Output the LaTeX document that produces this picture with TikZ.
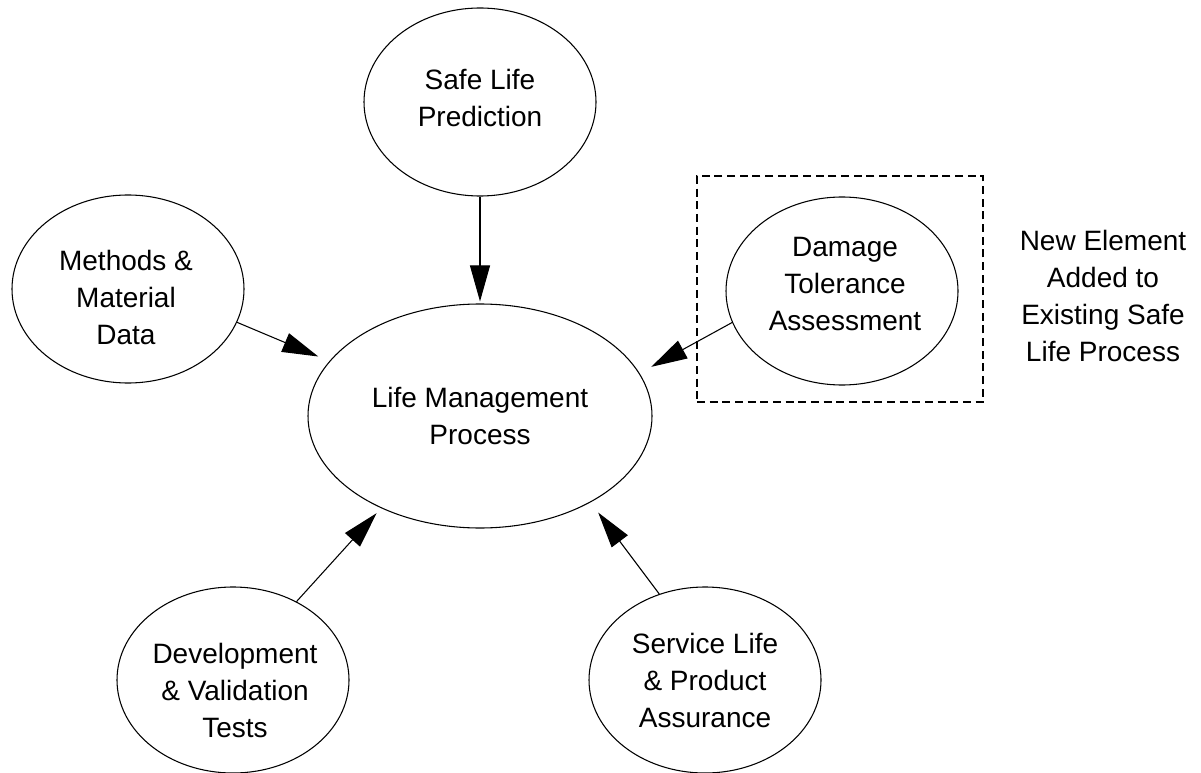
\documentclass[tikz,border=0pt]{standalone}
\usepackage{fontspec}
\setmainfont{Liberation Sans}
\usetikzlibrary{shapes.geometric,arrows.meta}
\begin{document}
\begin{tikzpicture}[x=0.75pt,y=-0.75pt,
  ell/.style={draw,ellipse,line width=0.8pt,inner sep=0pt,minimum width=174pt,minimum height=141pt},
  lbl/.style={align=center,font=\fontsize{21}{27.75}\selectfont,inner sep=0pt},
  arr/.style={-{Triangle[length=27pt,width=15pt]},line width=0.8pt},
  dbox/.style={draw,line width=0.8pt,dash pattern=on 6pt off 3.5pt,inner sep=0pt,minimum width=214.5pt,minimum height=169.5pt}]
\useasboundingbox (0,0) rectangle (1201,773);
% dashed frame
\node[dbox] (frame) at (840,289) {};
% ellipses
\node[ell] (safe) at (480,102) {};
\node[ell] (meth) at (128,289) {};
\node[ell] (dmg) at (842,291) {};
\node[ell,minimum width=258pt,minimum height=168pt] (life) at (480,416) {};
\node[ell,minimum height=139.5pt] (dev) at (233,680) {};
\node[ell,minimum height=139.5pt] (svc) at (705,680) {};
% texts
\node[lbl] (safet) at (480,98) {Safe Life\\Prediction};
\node[lbl] (metht) at (126,297) {Methods \&\\Material\\Data};
\node[lbl] (dmgt) at (845,284) {Damage\\Tolerance\\Assessment};
\node[lbl] (lifet) at (480,416) {Life Management\\Process};
\node[lbl] (devt) at (235,690) {Development\\\& Validation\\Tests};
\node[lbl] (svct) at (705,680) {Service Life\\\& Product\\Assurance};
\node[lbl] (note) at (1103,296) {New Element\\Added to\\Existing Safe\\Life Process};
% connectors
\draw[arr,shorten >=1.5pt] (safe.south) -- (life.north);
\draw[arr,shorten >=9pt] (meth.-17.4) -- (life.160.4);
\draw[arr,shorten >=10pt] (dmg.196.1) -- (life.15.3);
\draw[arr,shorten >=5pt] (dev.51.3) -- (life.223.3);
\draw[arr,shorten >=9.5pt] (svc.118.6) -- (life.-38.1);
\end{tikzpicture}
\end{document}
